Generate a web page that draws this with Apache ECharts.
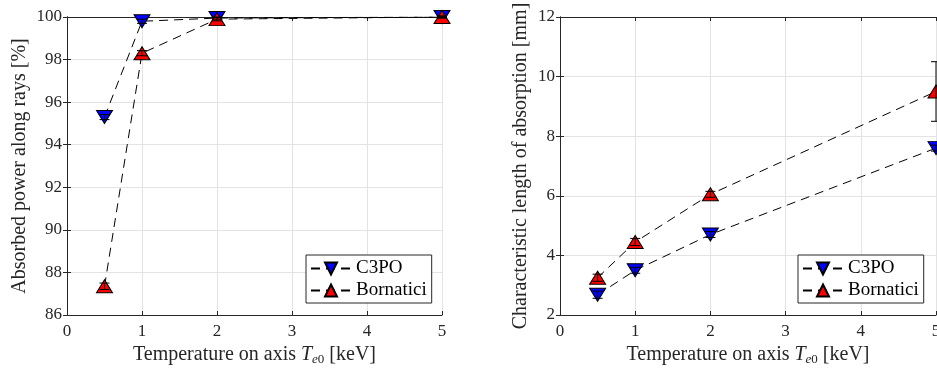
<!DOCTYPE html>
<html>
<head>
<meta charset="utf-8">
<script src="https://cdn.jsdelivr.net/npm/echarts@6/dist/echarts.min.js"></script>
<style>html,body{margin:0;padding:0;background:#fff;}#c{width:937px;height:371px;}</style>
</head>
<body>
<div id="c"></div>
<script>
// ---- data ----
const temps = [0.5, 1, 2, 5];
const xTicks = [0, 1, 2, 3, 4, 5];
// left panel: absorbed power along rays [%]
const powerC3PO = [95.3, 99.8, 99.95, 100];
const powerC3POErr = [0.12, 0.1, 0.05, 0.03];
const powerBorn = [87.35, 98.3, 99.9, 100];
const powerBornErr = [0.15, 0.12, 0.08, 0.05];
// right panel: characteristic length of absorption [mm]
const lenC3PO = [2.68, 3.5, 4.7, 7.6];
const lenC3POErr = [0.12, 0.1, 0.1, 0.1];
const lenBorn = [3.25, 4.45, 6.05, 9.5];
const lenBornErr = [0.12, 0.12, 0.1, 1.0];
const leftYTicks = [86, 88, 90, 92, 94, 96, 98, 100];
const rightYTicks = [2, 4, 6, 8, 10, 12];

const FONT = '"Liberation Serif", "DejaVu Serif", serif';
const TXT = '#262626';
const AX = '#262626';
const GRIDC = '#e3e3e3';

function pairs(xs, ys) { return xs.map((x, i) => [x, ys[i]]); }
function errs(xs, ys, es) { return xs.map((x, i) => [x, ys[i] - es[i], ys[i] + es[i]]); }

function errSeries(name, data, xi, yi) {
  return {
    type: 'custom', name: name, xAxisIndex: xi, yAxisIndex: yi, z: 5, silent: true,
    data: data,
    renderItem: function (params, api) {
      const x = api.value(0);
      const lo = api.coord([x, api.value(1)]);
      const hi = api.coord([x, api.value(2)]);
      const w = 5;
      const st = { stroke: '#000', lineWidth: 1 };
      return { type: 'group', children: [
        { type: 'line', shape: { x1: lo[0], y1: lo[1], x2: hi[0], y2: hi[1] }, style: st },
        { type: 'line', shape: { x1: lo[0] - w, y1: lo[1], x2: lo[0] + w, y2: lo[1] }, style: st },
        { type: 'line', shape: { x1: hi[0] - w, y1: hi[1], x2: hi[0] + w, y2: hi[1] }, style: st }
      ]};
    }
  };
}
function lineSeries(name, data, xi, yi, color, down) {
  return {
    type: 'line', name: name, xAxisIndex: xi, yAxisIndex: yi, z: 3,
    data: data,
    symbol: 'triangle', symbolSize: [16, 13], symbolRotate: down ? 180 : 0,
    showAllSymbol: true,
    lineStyle: { color: '#000', width: 1, type: [9, 6] },
    itemStyle: { color: color, borderColor: '#000', borderWidth: 1 },
    emphasis: { disabled: true },
    animation: false
  };
}
function xAx(gi, pos, labels) {
  return {
    type: 'value', gridIndex: gi, min: 0, max: 5, interval: 1, position: pos,
    name: labels ? 'Temperature on axis {i|T}{s|e}{n|0} [keV]' : '',
    nameLocation: 'middle', nameGap: 27,
    nameTextStyle: { fontFamily: FONT, fontSize: 20, color: TXT,
      rich: { i: { fontFamily: FONT, fontSize: 20, fontStyle: 'italic', color: TXT },
              s: { fontFamily: FONT, fontSize: 13, fontStyle: 'italic', color: TXT, padding: [9, 0, 0, 0] },
              n: { fontFamily: FONT, fontSize: 13, color: TXT, padding: [9, 0, 0, 0] } } },
    axisLine: { show: true, lineStyle: { color: AX, width: 1 } },
    axisTick: { show: true, inside: true, length: 4, lineStyle: { color: AX } },
    axisLabel: { show: labels, fontFamily: FONT, fontSize: 17, color: TXT, margin: 8 },
    splitLine: { show: labels, lineStyle: { color: GRIDC, width: 1 } }
  };
}
function yAx(gi, pos, labels, min, max, name, gap, nsize) {
  return {
    type: 'value', gridIndex: gi, min: min, max: max, interval: 2, position: pos,
    name: labels ? name : '', nameLocation: 'middle', nameGap: gap,
    nameTextStyle: { fontFamily: FONT, fontSize: nsize || 18, color: TXT },
    axisLine: { show: true, lineStyle: { color: AX, width: 1 } },
    axisTick: { show: true, inside: true, length: 4, lineStyle: { color: AX } },
    axisLabel: { show: labels, fontFamily: FONT, fontSize: 17, color: TXT, margin: 5 },
    splitLine: { show: labels, lineStyle: { color: GRIDC, width: 1 } }
  };
}
function legend(left) {
  return {
    left: left, top: 255, orient: 'vertical',
    data: ['C3PO', 'Bornatici'],
    backgroundColor: '#fff', borderColor: AX, borderWidth: 1,
    padding: [4, 5, 3, 4], itemGap: 3, itemWidth: 40, itemHeight: 15,
    textStyle: { fontFamily: FONT, fontSize: 19, color: '#000' },
    selectedMode: false
  };
}

const chart = echarts.init(document.getElementById('c'), null, { renderer: 'canvas' });
chart.setOption({
  animation: false,
  backgroundColor: '#fff',
  grid: [
    { left: 67, top: 17, width: 375, height: 298, outerBoundsMode: 'none', containLabel: false },
    { left: 560, top: 17, width: 376, height: 298, outerBoundsMode: 'none', containLabel: false }
  ],
  xAxis: [xAx(0, 'bottom', true), xAx(0, 'top', false), xAx(1, 'bottom', true), xAx(1, 'top', false)],
  yAxis: [
    yAx(0, 'left', true, 86, 100, 'Absorbed power along rays [%]', 37, 20),
    yAx(0, 'right', false, 86, 100, '', 0),
    yAx(1, 'left', true, 2, 12, 'Characteristic length of absorption [mm]', 29, 20),
    yAx(1, 'right', false, 2, 12, '', 0)
  ],
  legend: [legend(306), legend(798)],
  series: [
    lineSeries('C3PO', pairs(temps, powerC3PO), 0, 0, '#0000ff', true),
    lineSeries('Bornatici', pairs(temps, powerBorn), 0, 0, '#ff0000', false),
    errSeries('C3PO-err', errs(temps, powerC3PO, powerC3POErr), 0, 0),
    errSeries('Bornatici-err', errs(temps, powerBorn, powerBornErr), 0, 0),
    lineSeries('C3PO', pairs(temps, lenC3PO), 2, 2, '#0000ff', true),
    lineSeries('Bornatici', pairs(temps, lenBorn), 2, 2, '#ff0000', false),
    errSeries('C3PO-err', errs(temps, lenC3PO, lenC3POErr), 2, 2),
    errSeries('Bornatici-err', errs(temps, lenBorn, lenBornErr), 2, 2)
  ]
});
</script>
</body>
</html>
